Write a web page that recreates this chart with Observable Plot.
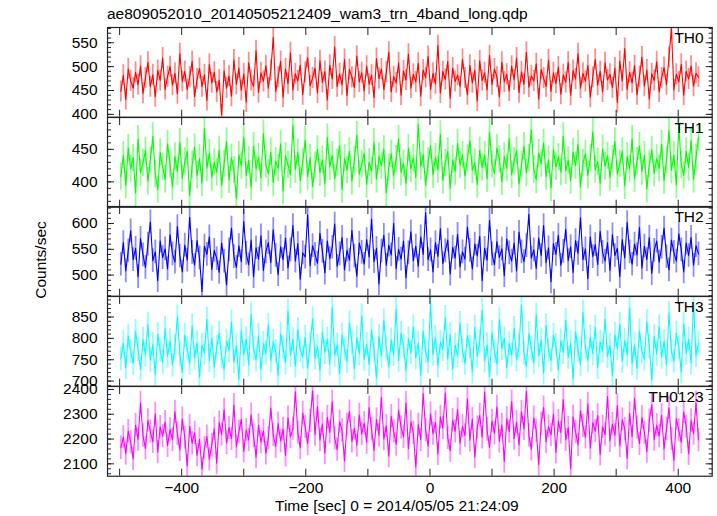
<!DOCTYPE html>
<html>
<head>
<meta charset="utf-8">
<script src="https://cdn.jsdelivr.net/npm/d3@7"></script>
<script src="https://cdn.jsdelivr.net/npm/@observablehq/plot@0.6"></script>
<style>
  html, body { margin: 0; padding: 0; background: #fff; }
  #wrap { position: relative; width: 717px; height: 516px; font-family: "Liberation Sans", Arial, Helvetica, sans-serif; color: #000; overflow: hidden; }
  .abs { position: absolute; }
  .txt { font-size: 15.5px; line-height: 15.5px; white-space: nowrap; }
</style>
</head>
<body>
<div id="wrap">
  <div class="abs txt" style="left:107px; top:6.4px;">ae809052010_20140505212409_wam3_trn_4band_long.qdp</div>
  <div class="abs txt" style="left:41px; top:260px; transform: translate(-50%,-50%) rotate(-90deg);">Counts/sec</div>
  <div class="abs txt" style="left:275px; top:498px;">Time [sec] 0 = 2014/05/05 21:24:09</div>
</div>
<script>
// ---- time sampling (seconds from 2014/05/05 21:24:09) ----
const tStart = -498;
const tStep = 3.96;

// ---- x axis ticks ----
const xTicks = [-500, -400, -300, -200, -100, 0, 100, 200, 300, 400];
const xLabels = [-400, -200, 0, 200, 400];

// ---- panel names ----
const names = ["TH0", "TH1", "TH2", "TH3", "TH0123"];

// ---- counts/sec values ----
const th0 = [
  448,482,431,495,470,455,488,462,501,444,476,509,458,483,437,492,471,518,452,479,
  500,461,486,443,527,469,490,452,478,511,437,474,496,458,483,429,505,466,488,447,
  472,399,491,455,480,438,514,463,497,450,485,426,508,471,459,533,446,487,469,502,
  455,492,561,448,478,511,436,495,464,529,451,485,470,503,441,488,519,460,476,497,
  445,512,467,490,430,503,474,541,458,485,462,515,439,494,478,456,522,468,487,449,
  501,463,482,435,517,475,495,452,488,530,447,479,466,508,440,491,472,526,455,484,
  468,507,438,493,477,521,452,486,464,544,445,490,473,511,434,497,469,482,458,515,
  476,441,503,466,492,428,512,471,487,451,523,462,495,478,437,509,468,484,449,501,
  472,518,446,489,463,530,457,481,470,506,432,494,476,458,514,448,487,465,499,442,
  483,467,509,440,492,474,527,455,486,469,503,436,478,515,461,490,447,508,472,484,
  456,497,425,511,470,538,452,488,466,502,441,479,520,459,493,432,485,471,510,447,
  476,498,462,519,580,451,484,468,505,440,490,474,501,459,486,478
];
const th1 = [
  408,441,395,452,420,437,383,466,414,429,448,401,433,470,412,388,445,423,404,458,
  427,392,439,416,461,405,431,447,379,426,453,410,436,398,482,421,444,407,430,415,
  449,395,428,462,403,437,418,374,441,425,469,410,433,392,455,420,438,406,474,427,
  413,446,399,432,421,458,386,440,426,411,487,419,445,402,431,464,408,437,393,425,
  450,414,434,397,468,423,441,405,429,456,388,436,418,447,401,433,472,412,427,444,
  396,430,417,461,404,439,425,450,383,422,443,409,435,466,415,428,398,452,420,437,
  407,489,424,442,395,431,456,411,438,419,473,402,429,447,390,434,416,459,426,441,
  409,436,463,418,430,396,448,422,441,405,476,427,413,452,435,400,439,421,467,411,
  432,448,397,426,455,414,437,480,419,403,444,428,460,408,434,391,449,423,438,415,
  470,417,433,402,446,425,458,392,429,443,410,436,477,419,431,398,451,424,440,407,
  435,462,412,428,447,394,439,420,466,405,432,455,416,441,389,427,449,413,436,421,
  458,402,433,479,418,441,395,486,426,410,447,422,463,404,437,468
];
const th2 = [
  521,563,508,547,586,530,552,497,571,539,515,560,603,528,545,489,566,534,551,512,
  578,541,525,594,537,506,558,529,612,544,519,567,533,468,556,540,574,511,548,532,
  505,562,527,481,549,591,536,515,557,526,604,542,520,568,497,553,531,576,509,545,
  563,524,588,538,501,555,530,572,514,549,596,527,561,492,543,535,617,518,557,540,
  523,581,546,504,566,532,554,599,517,541,573,510,548,529,587,537,498,562,544,521,
  569,535,608,526,552,483,547,577,519,558,539,600,513,550,531,566,495,543,584,528,
  556,517,574,540,621,530,549,506,563,536,590,522,547,568,502,554,533,579,516,545,
  531,593,548,512,560,537,575,489,552,529,606,541,520,565,534,551,499,570,543,527,
  562,508,583,545,526,557,618,533,549,513,572,538,596,524,553,487,561,540,577,519,
  546,589,528,555,505,567,542,611,530,551,493,574,536,559,520,585,544,527,563,509,
  578,538,552,497,569,533,602,545,521,560,539,592,514,556,530,573,503,548,566,525,
  554,591,536,510,568,544,527,580,549,506,562,538,573,519,557,541
];
const th3 = [
  752,789,731,805,768,742,816,774,727,798,761,832,749,786,716,809,772,744,823,758,
  795,737,781,850,763,720,807,776,741,829,754,790,709,784,766,845,748,801,733,779,
  812,757,728,794,771,838,745,783,704,818,762,799,738,857,775,750,806,726,788,765,
  831,747,792,769,714,810,778,743,864,760,797,735,820,772,756,803,730,787,846,753,
  780,725,815,767,798,740,872,761,785,718,808,775,746,836,790,729,801,764,853,751,
  786,739,819,772,707,804,759,841,777,733,796,762,868,748,812,781,724,799,766,827,
  754,789,713,817,770,745,880,763,802,736,791,774,849,752,809,728,784,760,835,771,
  742,806,779,721,826,758,793,866,747,785,711,813,769,740,844,776,800,731,788,761,
  823,750,782,878,765,734,811,777,743,855,759,796,719,830,772,748,807,783,726,794,
  767,842,755,789,705,815,773,739,861,780,749,803,764,826,732,791,770,845,757,784,
  712,809,776,833,746,795,762,871,741,786,729,818,768,751,839,780,703,804,763,827,
  756,793,738,859,771,747,812,778,721,834,765,798,743,881,760,789
];
const th0123 = [
  2165,2208,2141,2232,2187,2120,2256,2198,2346,2214,2162,2275,2230,2189,2301,2147,2248,2212,2268,2173,
  2239,2197,2310,2221,2156,2282,2206,2091,2251,2183,2225,2135,2199,2078,2163,2210,2118,2176,2241,2103,
  2266,2219,2318,2184,2245,2201,2337,2169,2229,2279,2150,2236,2196,2298,2213,2127,2255,2188,2233,2142,
  2204,2325,2217,2170,2262,2192,2240,2134,2286,2208,2242,2391,2226,2164,2305,2249,2180,2273,2395,2218,
  2331,2196,2261,2143,2288,2227,2350,2203,2157,2270,2235,2112,2258,2311,2191,2243,2174,2297,2221,2264,
  2186,2327,2240,2154,2279,2215,2368,2200,2253,2131,2292,2231,2178,2316,2247,2209,2345,2161,2269,2225,
  2087,2258,2197,2384,2236,2171,2302,2222,2267,2140,2289,2244,2387,2205,2153,2276,2231,2319,2183,2251,
  2214,2362,2195,2281,2128,2246,2296,2207,2390,2238,2166,2273,2223,2330,2191,2257,2109,2283,2230,2351,
  2202,2268,2176,2310,2241,2393,2215,2158,2286,2234,2097,2262,2327,2189,2250,2217,2301,2146,2272,2226,
  2359,2197,2245,2080,2290,2229,2176,2314,2253,2207,2342,2163,2266,2232,2295,2138,2249,2218,2371,2193,
  2260,2215,2335,2172,2279,2240,2122,2303,2209,2364,2247,2181,2288,2226,2149,2274,2338,2198,2256,2212,
  2296,2160,2241,2326,2201,2114,2283,2235,2187,2309,2250,2140,2275,2222,2346,2196
];

// ---- 1-sigma errors (counts/sec) ----
const errors = [22, 21, 23, 28, 47];

// ---- y axis domains and tick labels per panel ----
const yDomains = [[394, 582], [361, 499], [459, 633], [688, 898], [2050, 2412]];
const yMajor = [[400, 450, 500, 550], [400, 450], [500, 550, 600], [700, 750, 800, 850], [2100, 2200, 2300, 2400]];
const yMinorStep = [10, 10, 10, 10, 20];

const colors = ["#ff0000", "#00ff00", "#0000ff", "#00ffff", "#ff00ff"];
const series = [th0, th1, th2, th3, th0123];

// ---- layout ----
const W = 717, mL = 107, mR = 5.3, top0 = 27, pH = 89.74, xDomain = [-519.5, 454.7];
const FONT = '"Liberation Sans", Arial, Helvetica, sans-serif';
const wrap = document.getElementById("wrap");

series.forEach((vals, k) => {
  const data = vals.map((v, i) => ({t: tStart + i * tStep, v, e: errors[k]}));
  const [lo, hi] = yDomains[k];
  const minor = d3.range(Math.ceil(lo / yMinorStep[k]) * yMinorStep[k], hi + 1e-9, yMinorStep[k]);
  const last = k === series.length - 1;
  const none = () => "";
  const marks = [
    Plot.ruleX(data, {x: "t", y1: d => d.v - d.e, y2: d => d.v + d.e, stroke: colors[k], strokeOpacity: 0.45, strokeWidth: 1.8, clip: true}),
    Plot.line(data, {x: "t", y: "v", stroke: colors[k], strokeWidth: 1.1, clip: true}),
    Plot.axisY({anchor: "left", ticks: yMajor[k], tickSize: 0, tickPadding: 10, tickFormat: d => String(d), fontSize: 15.5}),
    Plot.axisY({anchor: "left", ticks: yMajor[k], tickSize: -7, tickFormat: none, stroke: "#222"}),
    Plot.axisY({anchor: "left", ticks: minor, tickSize: -4, tickFormat: none, stroke: "#222"}),
    Plot.axisY({anchor: "right", ticks: yMajor[k], tickSize: -7, tickFormat: none, stroke: "#222"}),
    Plot.axisY({anchor: "right", ticks: minor, tickSize: -4, tickFormat: none, stroke: "#222"}),
    Plot.axisX({anchor: "top", ticks: xTicks, tickSize: -7, tickFormat: none, stroke: "#222"}),
    Plot.axisX({anchor: "bottom", ticks: xTicks, tickSize: -7, tickFormat: none, stroke: "#222"}),
    Plot.text([names[k]], {frameAnchor: "top-right", text: d => d, textAnchor: "end", lineAnchor: "top", dx: -8.5, dy: 4.5, fontSize: 15.5, fill: "#000"}),
    Plot.frame({stroke: "#222", strokeWidth: 1.2})
  ];
  if (last) {
    marks.push(Plot.axisX({anchor: "bottom", ticks: xLabels, tickSize: 0, tickPadding: 6, fontSize: 15.5}));
  }
  const chart = Plot.plot({
    width: W,
    height: pH + (last ? 40 : 0),
    marginLeft: mL,
    marginRight: mR,
    marginTop: 0,
    marginBottom: last ? 40 : 0,
    style: {fontFamily: FONT, fontSize: "15.5px", color: "#000", background: "transparent", overflow: "visible"},
    x: {domain: xDomain, label: null},
    y: {domain: yDomains[k], label: null},
    marks
  });
  chart.style.position = "absolute";
  chart.style.left = "0px";
  chart.style.top = (top0 + k * pH) + "px";
  wrap.appendChild(chart);
});
</script>
</body>
</html>
